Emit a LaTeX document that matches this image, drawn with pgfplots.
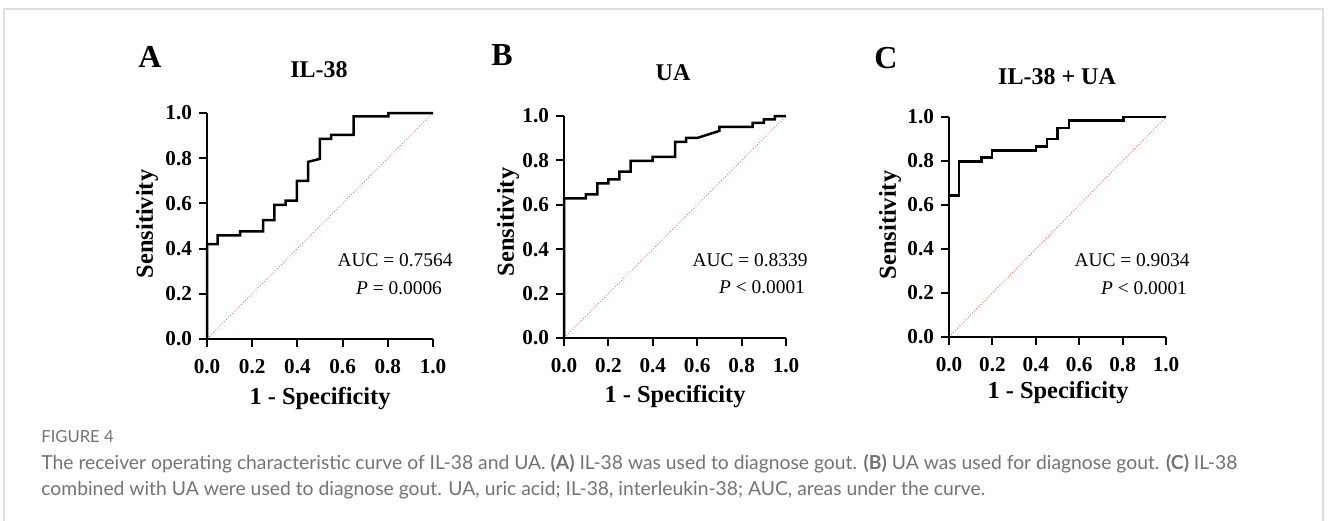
\documentclass[border=0pt]{standalone}
\usepackage{pgfplots}
\pgfplotsset{compat=1.18}
\usepackage{fontspec}
\setmainfont{Liberation Serif}
\newfontfamily\capfont{Lato}
\definecolor{diag}{RGB}{240,110,110}
\definecolor{capgray}{RGB}{115,115,115}
\definecolor{framegray}{RGB}{222,222,222}

\pgfplotsset{
  rocaxis/.style={
    scale only axis,
    anchor=south west,
    axis lines=left,
    axis line style={line width=1pt, -},
    xmin=0, xmax=1, ymin=0, ymax=1,
    xtick={0,0.2,0.4,0.6,0.8,1},
    ytick={0,0.2,0.4,0.6,0.8,1},
    tick align=outside,
    major tick length=4pt,
    every tick/.style={black, line width=1pt},
    ticklabel style={font=\bfseries\fontsize{10.6}{12}\selectfont},
    xticklabel style={yshift=-2.5pt},
    /pgf/number format/assume math mode=true,
    /pgf/number format/fixed,
    /pgf/number format/fixed zerofill,
    /pgf/number format/precision=1,
    clip=false,
  },
  roc/.style={black, line width=1.25pt, line join=miter},
  chance/.style={diag, densely dotted, line width=0.5pt},
}

\newcommand{\ttl}{\bfseries\fontsize{12}{14}\selectfont}
\newcommand{\lett}{\bfseries\fontsize{16}{18}\selectfont}
\newcommand{\lab}{\bfseries\fontsize{12.2}{14}\selectfont}
\newcommand{\auc}{\fontsize{9.7}{11}\selectfont}

\begin{document}
\begin{tikzpicture}
\path[use as bounding box] (0,0) rectangle (664pt,-260pt);
\draw[framegray, line width=0.6pt] (2pt,-262pt) -- (2pt,-4.5pt) -- (661.5pt,-4.5pt) -- (661.5pt,-262pt);

% Panel A
\begin{axis}[rocaxis, at={(103.5pt,-169.5pt)}, width=113pt, height=113pt]
\addplot[chance] coordinates {(0,0) (1,1)};
\addplot[roc] coordinates {
(0,0)(0,0.42)(0.047,0.42)(0.047,0.459)(0.147,0.459)(0.147,0.476)(0.248,0.476)
(0.248,0.526)(0.298,0.526)(0.298,0.594)(0.348,0.594)(0.348,0.612)(0.398,0.612)
(0.398,0.700)(0.448,0.700)(0.448,0.784)(0.499,0.797)(0.499,0.885)(0.549,0.885)
(0.549,0.903)(0.649,0.903)(0.649,0.985)(0.802,0.985)(0.802,1)(1,1)};
\end{axis}

% Panel B
\begin{axis}[rocaxis, at={(282pt,-169pt)}, width=111pt, height=111pt]
\addplot[chance] coordinates {(0,0) (1,1)};
\addplot[roc] coordinates {
(0,0)(0,0.629)(0.099,0.629)(0.099,0.647)(0.150,0.647)(0.150,0.696)(0.2,0.696)
(0.2,0.714)(0.249,0.714)(0.249,0.749)(0.300,0.749)(0.300,0.798)(0.399,0.798)
(0.399,0.816)(0.5,0.816)(0.5,0.883)(0.55,0.883)(0.55,0.901)(0.60,0.901)
(0.70,0.933)(0.70,0.951)(0.85,0.951)(0.85,0.969)(0.90,0.969)(0.90,0.985)
(0.95,0.985)(0.95,1)(1,1)};
\end{axis}

% Panel C
\begin{axis}[rocaxis, at={(474.5pt,-168.5pt)}, width=108.5pt, height=110pt]
\addplot[chance] coordinates {(0,0) (1,1)};
\addplot[roc] coordinates {
(0,0)(0,0.644)(0.046,0.644)(0.046,0.798)(0.150,0.798)(0.150,0.815)(0.199,0.815)
(0.199,0.847)(0.402,0.847)(0.402,0.865)(0.451,0.865)(0.451,0.9)(0.5,0.9)
(0.5,0.95)(0.552,0.95)(0.552,0.983)(0.804,0.983)(0.804,1)(1,1)};
\end{axis}

% letters and titles
\node[font=\lett] at (75pt,-28.5pt) {A};
\node[font=\ttl] at (159.5pt,-35pt) {IL-38};
\node[font=\lett] at (251pt,-27.5pt) {B};
\node[font=\ttl] at (336.5pt,-36.5pt) {UA};
\node[font=\lett] at (443pt,-29pt) {C};
\node[font=\ttl] at (528.5pt,-38.5pt) {IL-38 + UA};

% axis labels
\node[font=\lab, rotate=90] at (73.5pt,-112pt) {Sensitivity};
\node[font=\lab, rotate=90] at (254pt,-111pt) {Sensitivity};
\node[font=\lab, rotate=90] at (445pt,-112.5pt) {Sensitivity};
\node[font=\lab] at (160pt,-199.5pt) {1 - Specificity};
\node[font=\lab] at (337.5pt,-198.5pt) {1 - Specificity};
\node[font=\lab] at (529pt,-196.5pt) {1 - Specificity};

% AUC annotations
\node[font=\auc] at (197.5pt,-130pt) {AUC = 0.7564};
\node[font=\auc] at (199.5pt,-144pt) {\textit{P} = 0.0006};
\node[font=\auc] at (375pt,-130pt) {AUC = 0.8339};
\node[font=\auc] at (381pt,-143.5pt) {\textit{P} < 0.0001};
\node[font=\auc] at (566pt,-130pt) {AUC = 0.9034};
\node[font=\auc] at (572pt,-144pt) {\textit{P} < 0.0001};

% caption
\node[font=\capfont\fontsize{8.3}{9}\selectfont, text=capgray, anchor=west, inner sep=0pt] at (20.5pt,-218.5pt) {FIGURE 4};
\node[font=\capfont\fontsize{9.65}{11}\selectfont, text=capgray, anchor=west, inner sep=0pt] at (20.5pt,-232pt)
  {The receiver operating characteristic curve of IL-38 and UA. \textbf{(A)} IL-38 was used to diagnose gout. \textbf{(B)} UA was used for diagnose gout. \textbf{(C)} IL-38};
\node[font=\capfont\fontsize{9.65}{11}\selectfont, text=capgray, anchor=west, inner sep=0pt] at (20.5pt,-245pt)
  {combined with UA were used to diagnose gout. UA, uric acid; IL-38, interleukin-38; AUC, areas under the curve.};
\end{tikzpicture}
\end{document}
